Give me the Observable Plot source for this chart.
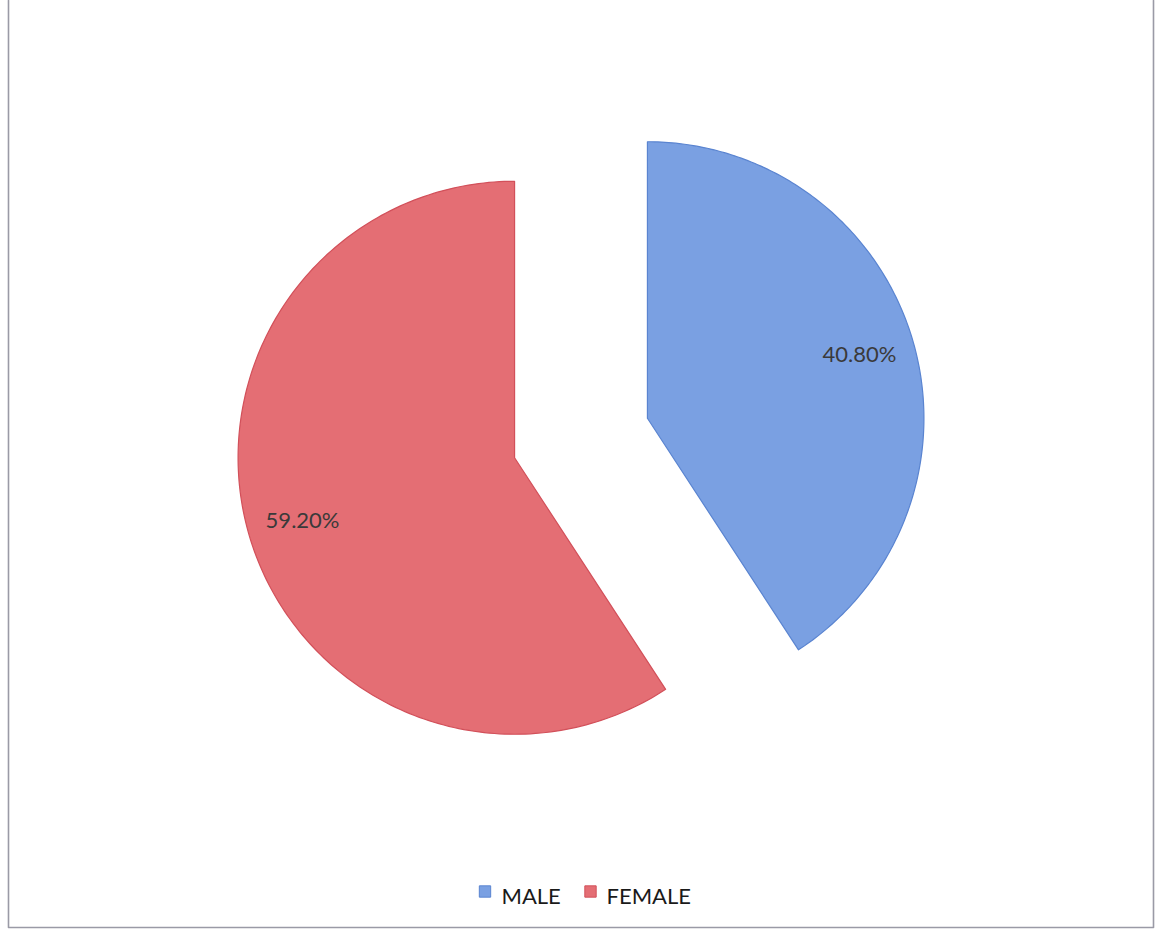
<!DOCTYPE html>
<html>
<head>
<meta charset="utf-8">
<script src="https://cdn.jsdelivr.net/npm/d3@7"></script>
<script src="https://cdn.jsdelivr.net/npm/@observablehq/plot@0.6"></script>
<style>
  html, body { margin: 0; padding: 0; background: #ffffff; }
  #chart svg { display: block; }
</style>
</head>
<body>
<div id="chart"></div>
<script>
// ---- data ----
const categories = ["MALE", "FEMALE"];
const shares = [40.8, 59.2];
const shareLabels = ["40.80%", "59.20%"];

// ---- styling / layout ----
const W = 1158, H = 931;
const fills = {MALE: "#7aa0e2", FEMALE: "#e46e74"};
const edges = {MALE: "#5a84d0", FEMALE: "#d2505a"};
const pieMid = [580.5, 437.5];   // centre of the (unexploded) pie, px
const radius = 276.5;            // px
const explode = 69.3;            // px each slice pulled out along its bisector
const labelFrac = 0.8;           // label distance as fraction of radius

const pie = d3.pie().sort(null).value(d => d.share).startAngle(0).endAngle(2 * Math.PI);
const rows = categories.map((c, i) => ({name: c, share: shares[i], label: shareLabels[i]}));
const arcs = pie(rows);

const slicePts = [];
const labelPts = [];
for (const a of arcs) {
  const mid = (a.startAngle + a.endAngle) / 2;
  const cx = pieMid[0] + explode * Math.sin(mid);
  const cy = pieMid[1] - explode * Math.cos(mid);
  slicePts.push({name: a.data.name, x: cx, y: cy});
  const n = 200;
  for (let k = 0; k <= n; k++) {
    const t = a.startAngle + (a.endAngle - a.startAngle) * k / n;
    slicePts.push({name: a.data.name, x: cx + radius * Math.sin(t), y: cy - radius * Math.cos(t)});
  }
  slicePts.push({name: a.data.name, x: cx, y: cy});
  labelPts.push({
    name: a.data.name, text: a.data.label,
    x: cx + labelFrac * radius * Math.sin(mid),
    y: cy - labelFrac * radius * Math.cos(mid)
  });
}

// legend entries
const legendItems = [
  {name: "MALE", sx: 484.5, tx: 501},
  {name: "FEMALE", sx: 590, tx: 606}
];
const legendY = 891, legendTextY = 896;

// frame (left, right, bottom sides visible)
const frame = [
  {x: 8, y: 0}, {x: 8, y: 927}, {x: 1153, y: 927}, {x: 1153, y: 0}
];

const marks = [
  Plot.line(frame, {x: "x", y: "y", stroke: "#9a9aa6", strokeWidth: 1.6}),
];
for (const c of categories) {
  marks.push(Plot.line(slicePts.filter(d => d.name === c), {
    x: "x", y: "y", fill: fills[c], stroke: edges[c], strokeWidth: 1.2, curve: "linear"
  }));
}
marks.push(Plot.text(labelPts, {x: "x", y: "y", text: "text", fontSize: 22, fill: "#3a3a3a"}));
marks.push(Plot.dot(legendItems, {
  x: "sx", y: () => legendY, symbol: "square", r: 6.4,
  fill: d => fills[d.name], stroke: d => edges[d.name], strokeWidth: 1
}));
marks.push(Plot.text(legendItems, {
  x: "tx", y: () => legendTextY, text: "name", textAnchor: "start", fontSize: 22, fill: "#1a1a1a"
}));

const chart = Plot.plot({
  width: W, height: H,
  margin: 0,
  x: {domain: [0, W], range: [0, W], axis: null},
  y: {domain: [0, H], range: [0, H], axis: null},
  color: {type: "identity"},
  style: {fontFamily: "Lato, 'Open Sans', sans-serif", background: "#ffffff"},
  marks
});
document.getElementById("chart").appendChild(chart);
</script>
</body>
</html>
